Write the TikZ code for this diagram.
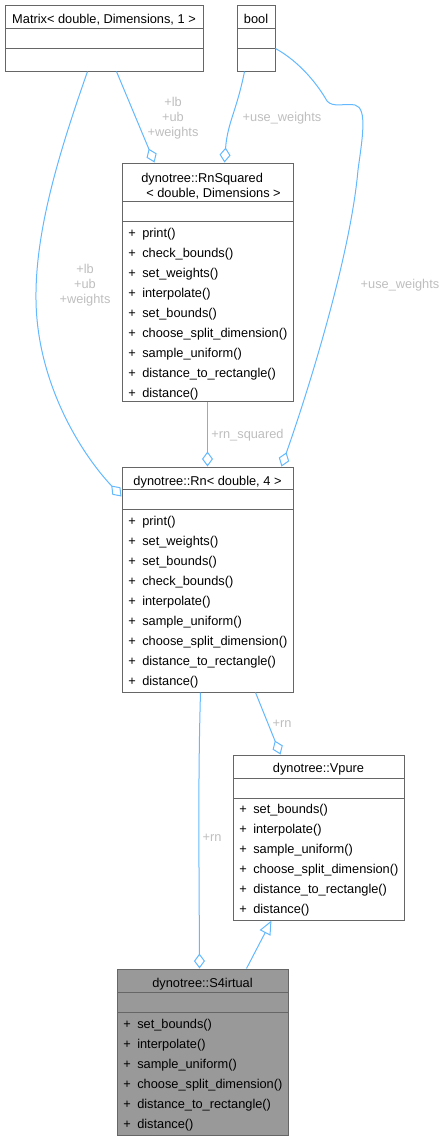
\documentclass[tikz,border=0pt]{standalone}
\usepackage{fontspec}
\setmainfont{Liberation Sans}
\usetikzlibrary{arrows.meta,fit,calc}
\definecolor{edgeblue}{HTML}{63B8FF}
\definecolor{boxgray}{HTML}{666666}
\definecolor{labelgray}{HTML}{BEBEBE}
\definecolor{fillgray}{HTML}{999999}
\begin{document}
\begin{tikzpicture}[x=0.75pt,y=-0.75pt,
 classbox/.style={draw=boxgray, line width=0.75pt, inner sep=0pt},
 divider/.style={draw=boxgray, line width=0.75pt},
 txt/.style={font=\fontsize{9.6}{11.25}\selectfont, inner sep=0pt, text=black},
 ttl/.style={txt, anchor=base},
 meth/.style={txt, anchor=base west},
 lbl/.style={font=\fontsize{9.6}{11.25}\selectfont, text=labelgray, align=center, inner sep=0pt},
 assoc/.style={draw=edgeblue, line width=0.75pt, -{Diamond[open, length=11.25pt, width=8.25pt]}},
 inherit/.style={draw=edgeblue, line width=0.75pt, -{Triangle[open, length=10.5pt, width=9pt]}},
]
\useasboundingbox (0,0) rectangle (447,1140);

% Matrix
\node[classbox, fit={(5,5) (203,71)}] (matrix) {};
\draw[divider] (5,28) -- (203,28);
\draw[divider] (5,48) -- (203,48);
\node[ttl] (matrix-t) at (104,23) {Matrix< double, Dimensions, 1 >};

% bool
\node[classbox, fit={(237,5) (275,71)}] (bool) {};
\draw[divider] (237,28) -- (275,28);
\draw[divider] (237,48) -- (275,48);
\node[ttl] (bool-t) at (256,23) {bool};

% RnSquared
\node[classbox, fit={(122,163) (293,401)}] (rnsq) {};
\draw[divider] (122,201) -- (293,201);
\draw[divider] (122,221) -- (293,221);
\node[meth] (rnsq-t1) at (141,182.5) {dynotree::RnSquared};
\node[meth] (rnsq-t2) at (146,197.5) {< double, Dimensions >};
\foreach \m [count=\i] in {print(), check\_bounds(), set\_weights(), interpolate(), set\_bounds(), choose\_split\_dimension(), sample\_uniform(), distance\_to\_rectangle(), distance()}
  {\node[meth] (rnsq-m\i) at (128,{237.5+20*(\i-1)}) {\makebox[10.5pt][l]{+}\m};}

% Rn
\node[classbox, fit={(122,467) (293,692)}] (rn) {};
\draw[divider] (122,489) -- (293,489);
\draw[divider] (122,509) -- (293,509);
\node[ttl] (rn-t) at (207.5,485) {dynotree::Rn< double, 4 >};
\foreach \m [count=\i] in {print(), set\_weights(), set\_bounds(), check\_bounds(), interpolate(), sample\_uniform(), choose\_split\_dimension(), distance\_to\_rectangle(), distance()}
  {\node[meth] (rn-m\i) at (128,{525.5+20*(\i-1)}) {\makebox[10.5pt][l]{+}\m};}

% Vpure
\node[classbox, fit={(233,755) (404,920)}] (vpure) {};
\draw[divider] (233,778) -- (404,778);
\draw[divider] (233,798) -- (404,798);
\node[ttl] (vpure-t) at (318.5,772) {dynotree::Vpure};
\foreach \m [count=\i] in {set\_bounds(), interpolate(), sample\_uniform(), choose\_split\_dimension(), distance\_to\_rectangle(), distance()}
  {\node[meth] (vpure-m\i) at (239,{813+20*(\i-1)}) {\makebox[10.5pt][l]{+}\m};}

% S4irtual
\node[classbox, fill=fillgray, fit={(117,969) (288,1135)}] (s4) {};
\draw[divider] (117,992) -- (288,992);
\draw[divider] (117,1012) -- (288,1012);
\node[ttl] (s4-t) at (202.5,987) {dynotree::S4irtual};
\foreach \m [count=\i] in {set\_bounds(), interpolate(), sample\_uniform(), choose\_split\_dimension(), distance\_to\_rectangle(), distance()}
  {\node[meth] (s4-m\i) at (123,{1028+20*(\i-1)}) {\makebox[10.5pt][l]{+}\m};}

% connectors
\draw[assoc] ($(matrix.south west)+(112,0)$) -- ($(rnsq.north west)+(33,0)$);
\draw[assoc] ($(bool.south west)+(8,0)$) .. controls ($(bool.south west)+(0,40)$) and ($(rnsq.north west)+(106,-40)$) .. ($(rnsq.north west)+(103,0)$);
\draw[assoc] ($(matrix.south west)+(83,0)$) .. controls (60,150) and (35,230) .. (36,300)
   .. controls (37,380) and (78,450) .. ($(rn.north west)+(0,30)$);
\draw[assoc] ($(bool.north east)+(0,44)$) .. controls (300,62) and (318,85) .. (327,101)
   .. controls (333,108) and (345,103) .. (355,105)
   .. controls (368,108) and (362,140) .. (358,170)
   .. controls (350,260) and (305,400) .. ($(rn.north west)+(160,0)$);
\draw[assoc] (rnsq.south) -- (rn.north);
\draw[assoc] ($(rn.south west)+(134,0)$) -- ($(vpure.north west)+(48,0)$);
\draw[assoc] ($(rn.south west)+(79,0)$) .. controls (198,780) and (199,850) .. ($(s4.north west)+(83,0)$);
\draw[inherit] ($(s4.north west)+(130,0)$) -- ($(vpure.south west)+(39,0)$);

% labels
\node[lbl] (l1) at (173,118) {+lb\\+ub\\+weights};
\node[lbl] (l2) at (282,118) {+use\_weights};
\node[lbl] (l3) at (85,285) {+lb\\+ub\\+weights};
\node[lbl] (l4) at (400,285) {+use\_weights};
\node[lbl] (l5) at (247.5,435) {+rn\_squared};
\node[lbl] (l6) at (282,724) {+rn};
\node[lbl] (l7) at (212,838) {+rn};
\end{tikzpicture}
\end{document}
